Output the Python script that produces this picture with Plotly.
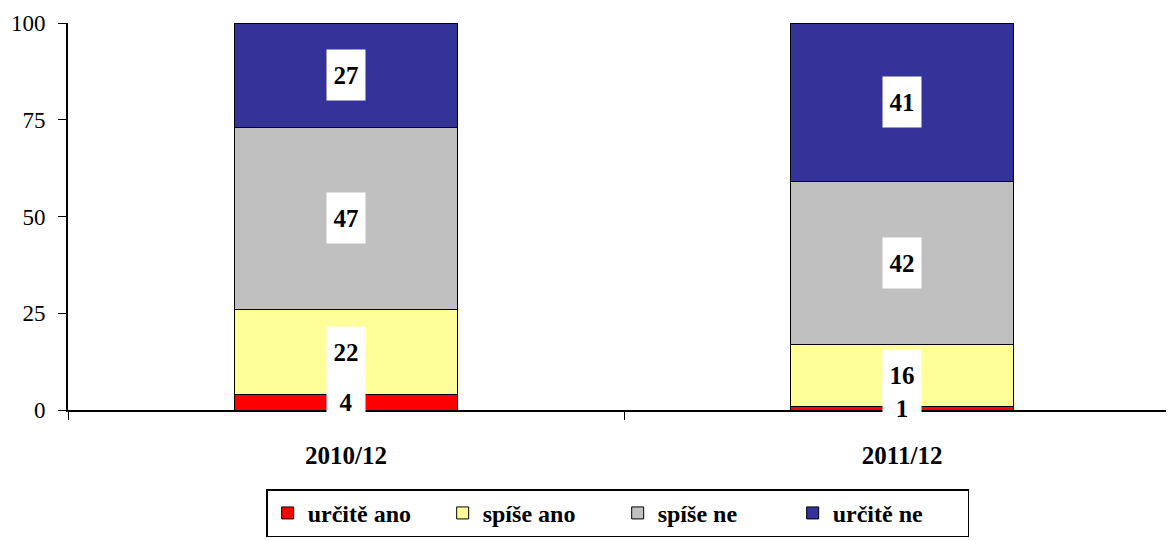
import plotly.graph_objects as go

categories = ["2010/12", "2011/12"]
series_names = ["určitě ano", "spíše ano", "spíše ne", "určitě ne"]
urcite_ano = [4, 1]
spise_ano = [22, 16]
spise_ne = [47, 42]
urcite_ne = [27, 41]
colors = ["#FF0000", "#FFFF99", "#C0C0C0", "#333399"]
y_ticks = [0, 25, 50, 75, 100]

series = [urcite_ano, spise_ano, spise_ne, urcite_ne]
font_family = "Liberation Serif"

fig = go.Figure()
for name, vals, col in zip(series_names, series, colors):
    fig.add_trace(go.Bar(
        x=categories, y=vals, name="<b>%s</b>" % name,
        marker=dict(color=col, line=dict(color="black", width=1)),
        hoverinfo="skip",
    ))

annotations = []
for i, cat in enumerate(categories):
    base = 0
    for vals in series:
        v = vals[i]
        annotations.append(dict(
            x=cat, y=base + v / 2, xref="x", yref="y",
            text="<b>%d</b>" % v, showarrow=False,
            font=dict(family=font_family, size=25, color="black"),
            bgcolor="white", width=36, height=48, borderpad=1,
        ))
        base += v

fig.update_layout(
    barmode="stack",
    bargap=0.6,
    width=1166, height=532,
    margin=dict(l=60, r=0, t=15, b=130, autoexpand=False),
    plot_bgcolor="white", paper_bgcolor="white",
    font=dict(family=font_family, size=22, color="black"),
    annotations=annotations,
    showlegend=True,
    legend=dict(
        orientation="h", x=0.497, xanchor="center", y=-0.205, yanchor="top",
        bordercolor="black", borderwidth=1.5,
        font=dict(family=font_family, size=24, color="black"),
        itemwidth=30, traceorder="normal",
        entrywidth=130, entrywidthmode="pixels",
    ),
    xaxis=dict(
        type="category", range=[-0.5, 1.489],
        tickvals=categories,
        ticktext=["<b>%s</b>" % c for c in categories],
        tickson="boundaries", ticks="outside", ticklen=8, tickcolor="black",
        showline=True, linecolor="black", linewidth=2,
        tickfont=dict(family=font_family, size=25, color="black"),
        ticklabelstandoff=22,
        showgrid=False, automargin=False,
    ),
    yaxis=dict(
        range=[0, 100], tickvals=y_ticks,
        ticks="outside", ticklen=8, tickcolor="black",
        showline=True, linecolor="black", linewidth=2,
        showgrid=False, zeroline=False, automargin=False,
        tickfont=dict(family=font_family, size=23, color="black"),
        ticklabelstandoff=8,
    ),
)

fig.write_html("out.html")
